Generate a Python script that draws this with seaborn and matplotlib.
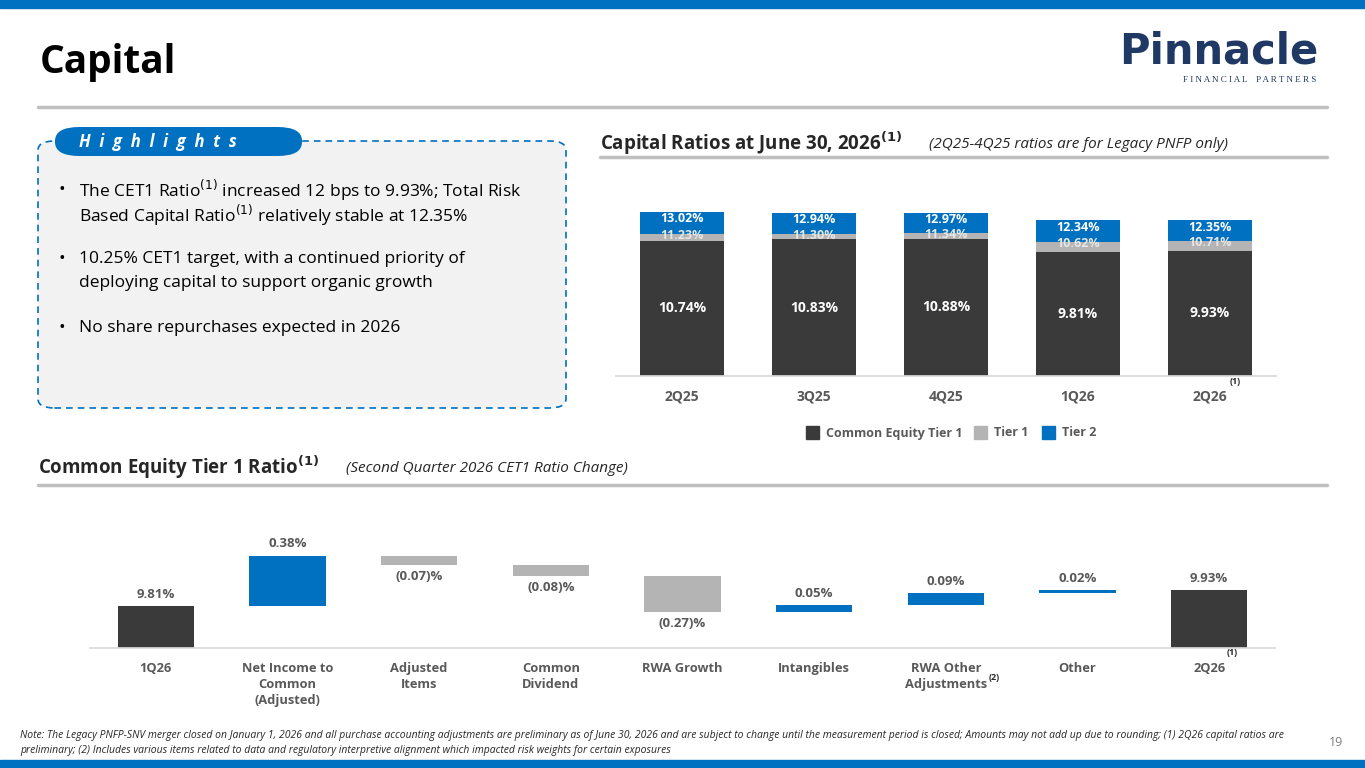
import numpy as np
import pandas as pd
import matplotlib
matplotlib.use("Agg")
import matplotlib.pyplot as plt
import seaborn as sns
from matplotlib.patches import FancyBboxPatch, Rectangle

# ---- data ----
quarters = ["2Q25", "3Q25", "4Q25", "1Q26", "2Q26"]
cet1 = [10.74, 10.83, 10.88, 9.81, 9.93]
tier1 = [11.23, 11.30, 11.34, 10.62, 10.71]
tier2 = [13.02, 12.94, 12.97, 12.34, 12.35]

steps = ["1Q26", "Net Income to\nCommon\n(Adjusted)", "Adjusted\nItems", "Common\nDividend",
         "RWA Growth", "Intangibles", "RWA Other\nAdjustments", "Other", "2Q26"]
step_values = [9.81, 0.38, -0.07, -0.08, -0.27, 0.05, 0.09, 0.02, 9.93]
step_labels = ["9.81%", "0.38%", "(0.07)%", "(0.08)%", "(0.27)%", "0.05%", "0.09%", "0.02%", "9.93%"]

BLUE = "#0070C0"
DARK = "#3A3A3A"
GRAY = "#B4B4B4"

sns.set_theme(style="white")
plt.rcParams['font.family'] = ['Open Sans', 'DejaVu Sans']

fig = plt.figure(figsize=(13.65, 7.68), dpi=100)
W, H = 1365, 768


def fx(x):
    return x / W


def fy(y):
    return 1 - y / H


# stripes, rules
fig.add_artist(Rectangle((0, fy(8)), 1, 8 / H, color=BLUE, transform=fig.transFigure))
fig.add_artist(Rectangle((0, 0), 1, 8 / H, color=BLUE, transform=fig.transFigure))
for x0, x1, y in [(38, 1327, 107), (600, 1327, 157), (38, 1327, 485)]:
    fig.add_artist(plt.Line2D([fx(x0), fx(x1)], [fy(y), fy(y)], color="#BFBFBF", lw=2.5))

fig.text(fx(40), fy(62), "Capital", fontsize=28, fontweight="bold", color="black", va="center")
fig.text(fx(1318), fy(52), "Pinnacle", fontsize=30, fontweight="bold", color="#1F3864",
         ha="right", va="center", family=["Liberation Sans Narrow", "DejaVu Sans"])
fig.text(fx(1316), fy(80), "F I N A N C I A L    P A R T N E R S", fontsize=6.5,
         color="#1F3864", ha="right", va="center", family=["Liberation Serif"])

# highlights box
box = FancyBboxPatch((fx(38), fy(408)), fx(528), (408 - 141) / H,
                     boxstyle="round,pad=0,rounding_size=0.012", transform=fig.transFigure,
                     facecolor="#F2F2F2", edgecolor=BLUE, lw=1.2, linestyle=(0, (4, 3)))
fig.add_artist(box)
pill = FancyBboxPatch((fx(55), fy(156)), fx(247), 29 / H,
                      boxstyle="round,pad=0,rounding_size=0.018", transform=fig.transFigure,
                      facecolor=BLUE, edgecolor="none")
fig.add_artist(pill)
fig.text(fx(158), fy(142), "H  i  g  h  l  i  g  h  t  s", fontsize=12, fontweight="bold",
         style="italic", color="white", ha="center", va="center")
for y in [190, 259, 328]:
    fig.text(fx(58), fy(y), "•", fontsize=12.5, color="black", va="center")
lines = [
    (190, "The CET1 Ratio$^{(1)}$ increased 12 bps to 9.93%; Total Risk"),
    (215, "Based Capital Ratio$^{(1)}$ relatively stable at 12.35%"),
    (259, "10.25% CET1 target, with a continued priority of"),
    (283, "deploying capital to support organic growth"),
    (328, "No share repurchases expected in 2026"),
]
for y, t in lines:
    fig.text(fx(79), fy(y), t, fontsize=12.5, color="black", va="center")

# section headers
fig.text(fx(600), fy(143), "Capital Ratios at June 30, 2026$^{\\bf(1)}$", fontsize=13.5,
         fontweight="bold", color="#262626", va="center")
fig.text(fx(929), fy(144), "(2Q25-4Q25 ratios are for Legacy PNFP only)", fontsize=11,
         style="italic", color="#262626", va="center")
fig.text(fx(38), fy(467), "Common Equity Tier 1 Ratio$^{\\bf(1)}$", fontsize=13.5,
         fontweight="bold", color="#262626", va="center")
fig.text(fx(346), fy(468), "(Second Quarter 2026 CET1 Ratio Change)", fontsize=11,
         style="italic", color="#262626", va="center")

# ---- stacked capital ratios ----
ax = fig.add_axes([fx(616), fy(376), fx(660), 179 / H])
df = pd.DataFrame({"q": quarters, "cet1": cet1, "tier1": tier1, "tier2": tier2})
for col, c in [("tier2", BLUE), ("tier1", GRAY), ("cet1", DARK)]:
    sns.barplot(data=df, x="q", y=col, color=c, width=0.64, saturation=1, linewidth=0, ax=ax)
ax.set_ylim(0, 14.2)
ax.set_xlim(-0.5, 4.5)
for i in range(len(quarters)):
    ax.text(i, cet1[i] / 2, f"{cet1[i]:.2f}%", ha="center", va="center", color="white",
            fontsize=10, fontweight="bold")
    ax.text(i, tier1[i] - 0.12, f"{tier1[i]:.2f}%", ha="center", va="center", color="#E6E6E6",
            fontsize=9, fontweight="bold")
    ax.text(i, tier2[i] - 0.55, f"{tier2[i]:.2f}%", ha="center", va="center", color="white",
            fontsize=9, fontweight="bold")
ax.set_xlabel("")
ax.set_ylabel("")
ax.set_yticks([])
ax.tick_params(axis="x", length=0, pad=10)
for t in ax.get_xticklabels():
    t.set_fontweight("bold")
    t.set_color("#595959")
    t.set_fontsize(10)
for s in ["top", "left", "right"]:
    ax.spines[s].set_visible(False)
ax.spines["bottom"].set_color("#D9D9D9")
fig.text(fx(1230), fy(384), "(1)", fontsize=6.5, fontweight="bold", color="#262626")

# legend
for x, lab, c in [(806, "Common Equity Tier 1", DARK), (974, "Tier 1", GRAY), (1042, "Tier 2", BLUE)]:
    fig.add_artist(Rectangle((fx(x), fy(439)), fx(13), 13 / H, color=c, transform=fig.transFigure))
    fig.text(fx(x + 20), fy(433), lab, fontsize=9, fontweight="bold", color="#595959", va="center")

# ---- waterfall ----
base = 9.5
bottoms, heights, colors = [], [], []
level = 0.0
for i, v in enumerate(step_values):
    if i == 0 or i == len(step_values) - 1:
        bottoms.append(base)
        heights.append(v - base)
        colors.append(DARK)
        level = v
    else:
        bottoms.append(level if v > 0 else level + v)
        heights.append(abs(v))
        colors.append(BLUE if v > 0 else GRAY)
        level += v

ax2 = fig.add_axes([fx(90), fy(648), fx(1185), 128 / H])
xs = np.arange(len(steps))
ax2.bar(xs, heights, bottom=bottoms, width=0.58, color=colors, linewidth=0)
ax2.set_ylim(base, base + 128 / 134)
ax2.set_xlim(-0.5, len(steps) - 0.5)
for i, v in enumerate(step_values):
    top = bottoms[i] + heights[i]
    if v < 0:
        ax2.text(i, bottoms[i] - 0.04, step_labels[i], ha="center", va="top", fontsize=9.5,
                 fontweight="bold", color="#595959")
    else:
        ax2.text(i, top + 0.04, step_labels[i], ha="center", va="bottom", fontsize=9.5,
                 fontweight="bold", color="#595959")
ax2.set_xticks(xs)
ax2.set_xticklabels(steps, fontsize=9.3, fontweight="bold", color="#595959", linespacing=1.3)
ax2.tick_params(axis="x", length=0, pad=10)
ax2.set_yticks([])
for s in ["top", "left", "right"]:
    ax2.spines[s].set_visible(False)
ax2.spines["bottom"].set_color("#D9D9D9")
fig.text(fx(1227), fy(655), "(1)", fontsize=6.5, fontweight="bold", color="#262626")
fig.text(fx(989), fy(680), "(2)", fontsize=6.5, fontweight="bold", color="#262626")

# footnote
fig.text(fx(20), fy(743),
         "Note: The Legacy PNFP-SNV merger closed on January 1, 2026 and all purchase accounting adjustments are preliminary as of June 30, 2026 and are subject to change until the measurement period is closed; Amounts may not add up due to rounding; (1) 2Q26 capital ratios are\n"
         "preliminary; (2) Includes various items related to data and regulatory interpretive alignment which impacted risk weights for certain exposures",
         fontsize=7.5, style="italic", color="#262626", va="center", linespacing=1.4)
fig.text(fx(1343), fy(742), "19", fontsize=9, color="#7F7F7F", ha="right", va="center")

fig.savefig("out.png", dpi=100)
